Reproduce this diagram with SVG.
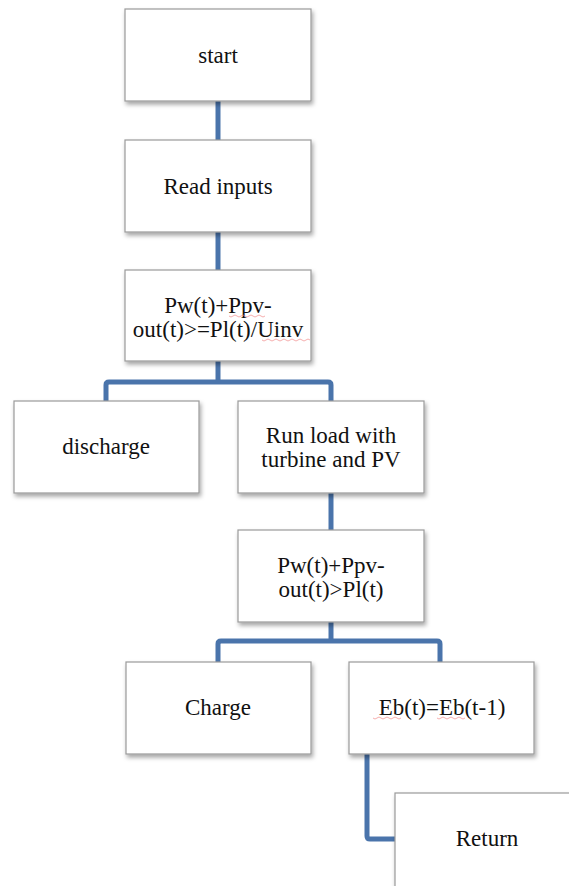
<svg xmlns="http://www.w3.org/2000/svg" width="569" height="886" viewBox="0 0 569 886">
<defs>
<filter id="sh" x="-10%" y="-10%" width="130%" height="140%">
<feDropShadow dx="1.5" dy="3" stdDeviation="2" flood-color="#000" flood-opacity="0.35"/>
</filter>
<style>
.box{fill:#fff;stroke:#9a9a9a;stroke-width:1.2;filter:url(#sh)}
.t{font-family:"Liberation Serif","Times New Roman",serif;font-size:23px;fill:#111;text-anchor:middle}
.c{fill:none;stroke:#4a74ab;stroke-width:5;stroke-linejoin:round}
.sq{fill:none;stroke:#f08080;stroke-width:0.8;opacity:0.8}
</style>
</defs>
<rect width="569" height="886" fill="#fff"/>
<g id="connectors">
<path class="c" d="M218 101 V140"/>
<path class="c" d="M218 232 V270"/>
<path class="c" d="M218 361 V382"/>
<path class="c" d="M106 401 V385 Q106 382 109 382 H328 Q331 382 331 385 V401"/>
<path class="c" d="M331 493 V530"/>
<path class="c" d="M331 622 V641"/>
<path class="c" d="M218 662 V644 Q218 641 221 641 H437 Q440 641 440 644 V662"/>
<path class="c" d="M367 754 V836 Q367 839 370 839 H396"/>
</g>
<g id="start">
<rect class="box" x="125" y="9" width="186" height="92"/>
<text class="t" x="218" y="63">start</text>
</g>
<g id="read-inputs">
<rect class="box" x="125" y="140" width="186" height="92"/>
<text class="t" x="218" y="194">Read inputs</text>
</g>
<g id="cond1">
<rect class="box" x="125" y="270" width="186" height="91"/>
<text class="t" x="218" y="313">Pw(t)+Ppv-</text>
<text class="t" x="218" y="337">out(t)&gt;=Pl(t)/Uinv</text>
<path class="sq" d="M229 316 q2 2 4 0 t4 0 t4 0 t4 0 t4 0 t4 0 t4 0 t4 0 t4 0"/>
<path class="sq" d="M262 340 q2 2 4 0 t4 0 t4 0 t4 0 t4 0 t4 0 t4 0 t4 0 t4 0 t4 0 t4 0 t4 0"/>
</g>
<g id="discharge">
<rect class="box" x="14" y="401" width="185" height="92"/>
<text class="t" x="106" y="454">discharge</text>
</g>
<g id="run-load">
<rect class="box" x="238" y="401" width="186" height="92"/>
<text class="t" x="331" y="443">Run load with</text>
<text class="t" x="331" y="467">turbine and PV</text>
</g>
<g id="cond2">
<rect class="box" x="238" y="530" width="186" height="92"/>
<text class="t" x="331" y="573">Pw(t)+Ppv-</text>
<text class="t" x="331" y="597">out(t)&gt;Pl(t)</text>
</g>
<g id="charge">
<rect class="box" x="126" y="662" width="185" height="92"/>
<text class="t" x="218" y="715">Charge</text>
</g>
<g id="eb">
<rect class="box" x="349" y="662" width="185" height="92"/>
<text class="t" x="442" y="715">Eb(t)=Eb(t-1)</text>
<path class="sq" d="M373 718 q2 2 4 0 t4 0 t4 0 t4 0 t4 0 t4 0 t4 0"/>
<path class="sq" d="M437 718 q2 2 4 0 t4 0 t4 0 t4 0 t4 0 t4 0 t4 0"/>
</g>
<g id="return">
<rect class="box" x="395" y="793" width="190" height="110"/>
<text class="t" x="487" y="846">Return</text>
</g>
</svg>
